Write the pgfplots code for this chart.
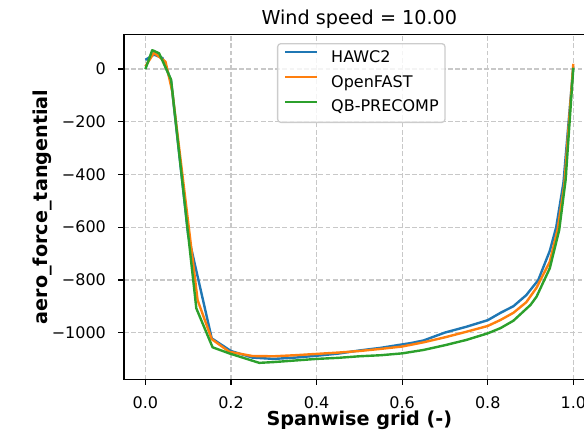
\documentclass[border=0pt]{standalone}
\usepackage{fontspec}
\setmainfont{DejaVu Sans}
\usepackage{pgfplots}
\pgfplotsset{compat=1.18}
\definecolor{c0}{HTML}{1F77B4}
\definecolor{c1}{HTML}{FF7F0E}
\definecolor{c2}{HTML}{2CA02C}
\definecolor{gridc}{HTML}{C8C8C8}
\definecolor{legc}{HTML}{CCCCCC}

\pgfplotstableread{
x y
0 35
0.02 55
0.04 42
0.06 -45
0.1 -630
0.155 -1022
0.2 -1070
0.25 -1095
0.3 -1100
0.35 -1095
0.4 -1088
0.45 -1080
0.5 -1068
0.55 -1058
0.6 -1045
0.62 -1040
0.65 -1030
0.7 -1000
0.75 -978
0.8 -953
0.83 -925
0.86 -900
0.89 -858
0.918 -801
0.945 -690
0.96 -600
0.977 -430
1.0 10
}\hawc

\pgfplotstableread{
x y
0 10
0.02 62
0.047 28
0.063 -86
0.122 -877
0.155 -1025
0.196 -1073
0.25 -1089
0.3 -1090
0.35 -1086
0.4 -1081
0.45 -1076
0.5 -1070
0.55 -1062
0.6 -1053
0.65 -1037
0.7 -1018
0.75 -997
0.8 -975
0.83 -952
0.86 -925
0.89 -885
0.914 -830
0.945 -731
0.963 -611
0.979 -440
1.0 20
}\openfast

\pgfplotstableread{
x y
0 0
0.016 72
0.032 60
0.06 -40
0.119 -908
0.157 -1056
0.196 -1079
0.266 -1115
0.3 -1112
0.35 -1106
0.4 -1100
0.45 -1096
0.5 -1090
0.55 -1086
0.6 -1079
0.65 -1066
0.7 -1048
0.75 -1028
0.8 -1003
0.83 -983
0.86 -955
0.9 -895
0.914 -864
0.945 -756
0.967 -611
0.982 -421
1.0 5
}\qb

\begin{document}
\begin{tikzpicture}
\path[use as bounding box] (-77.5pt,-32.9pt) rectangle (287.5pt,237.1pt);
\clip (-77.5pt,-32.9pt) rectangle (287.5pt,237.1pt);
\begin{axis}[
  scale only axis,
  at={(0pt,0pt)}, anchor=south west,
  width=294.2pt, height=215.6pt,
  xmin=-0.05, xmax=1.05,
  ymin=-1177.6, ymax=131.7,
  axis line style={black, line width=0.8pt},
  xtick={0,0.2,0.4,0.6,0.8,1.0},
  xticklabels={0.0,0.2,0.4,0.6,0.8,1.0},
  ytick={-1000,-800,-600,-400,-200,0},
  yticklabels={−1000,−800,−600,−400,−200,0},
  xtick pos=bottom, ytick pos=left,
  tick align=outside,
  major tick length=3.5pt,
  tick style={black, line width=0.8pt},
  grid=major,
  major grid style={gridc, line width=0.8pt, dash pattern=on 3pt off 1.5pt},
  xticklabel style={font=\fontsize{10}{12}\selectfont, anchor=base, inner sep=0pt, yshift=-15pt},
  yticklabel style={font=\fontsize{10}{12}\selectfont, anchor=east, inner sep=0pt, xshift=-7.6pt},
  title={Wind speed = 10.00},
  title style={font=\fontsize{12}{14}\selectfont, at={(axis description cs:0.5,1.0008)}, anchor=base, inner sep=0pt},
  xlabel={Spanwise grid (-)},
  xlabel style={font=\fontsize{12}{14}\selectfont\bfseries, at={(axis description cs:0.5,-0.1325)}, anchor=base, inner sep=0pt},
  ylabel={aero\_force\_tangential},
  ylabel style={font=\fontsize{12}{14}\selectfont\bfseries, at={(axis description cs:-0.1615,0.5)}, anchor=base, inner sep=0pt},
  legend cell align=left,
  legend style={at={(axis description cs:0.325,0.975)}, anchor=north west,
    draw=legc, line width=0.8pt, rounded corners=2pt, fill=white, fill opacity=0.8, text opacity=1,
    inner xsep=4pt, inner ysep=4pt,
    font=\fontsize{10}{12}\selectfont,
    row sep=5.6pt,
    nodes={inner sep=0pt, text height=7.5pt, text depth=2.5pt},
    /tikz/every odd column/.append style={column sep=8pt}},
  legend image code/.code={\draw[#1, line width=1.5pt] (0pt,3.6pt) -- (20pt,3.6pt);},
  every axis plot/.append style={line width=1.5pt, line join=round, mark=none},
]
\addplot[c0] table[x=x,y=y]{\hawc};
\addlegendentry{HAWC2}
\addplot[c1] table[x=x,y=y]{\openfast};
\addlegendentry{OpenFAST}
\addplot[c2] table[x=x,y=y]{\qb};
\addlegendentry{QB-PRECOMP}
\end{axis}
\end{tikzpicture}
\end{document}
